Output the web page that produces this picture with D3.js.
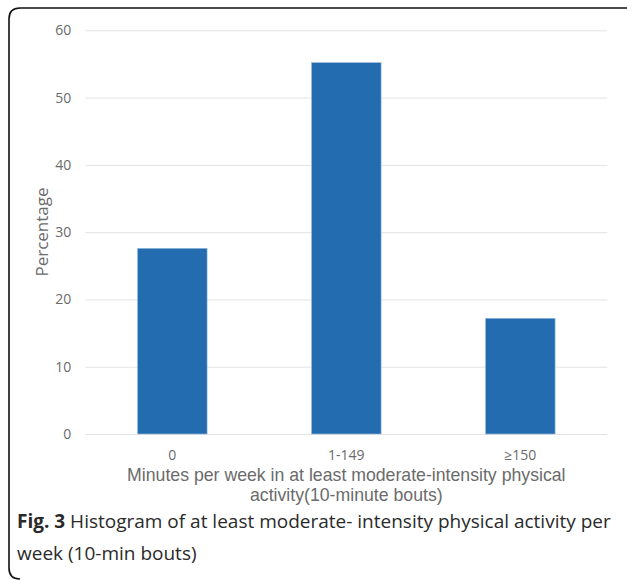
<!DOCTYPE html>
<html><head><meta charset="utf-8">
<script src="https://cdn.jsdelivr.net/npm/d3@7"></script>
<style>html,body{margin:0;padding:0;background:#fff;}svg{display:block;}</style>
</head><body>
<script>
const categories = ["0", "1-149", "\u2265150"];
const values = [27.6, 55.2, 17.2];
const yTicks = [0, 10, 20, 30, 40, 50, 60];
const yTitle = "Percentage";
const xTitleLines = ["Minutes per week in at least moderate-intensity physical", "activity(10-minute bouts)"];
const captionBold = "Fig. 3";
const captionLines = [" Histogram of at least moderate- intensity physical activity per", "week (10-min bouts)"];

(function () {
const W = 627, H = 580;
const svg = d3.select("body").append("svg").attr("width", W).attr("height", H);

// frame
svg.append("path")
  .attr("d", "M627,8 L20,8 Q9,8 9,19 L9,568 Q9,579 20,579")
  .attr("fill", "none").attr("stroke", "#111").attr("stroke-width", 1.6);

const pL = 85.3, pR = 607.3, pT = 30.3, pB = 434;
const x = d3.scaleBand().domain(categories).range([pL, pR]).paddingInner(0.6).paddingOuter(0.3);
const y = d3.scaleLinear().domain([0, 60]).range([pB, pT]);

// gridlines
const yAxis = d3.axisLeft(y).tickValues(yTicks).tickSize(-(pR - pL)).tickPadding(14);
const gy = svg.append("g").attr("transform", `translate(${pL},0)`).call(yAxis);
gy.select(".domain").remove();
gy.selectAll(".tick line").attr("stroke", "#e3e3e3").attr("stroke-width", 1);
gy.selectAll(".tick text").attr("fill", "#6b6b6b").attr("font-family", "'Open Sans', sans-serif").attr("font-size", 14);

// bars
svg.append("g").selectAll("rect").data(values).join("rect")
  .attr("x", (d, i) => x(categories[i]))
  .attr("width", x.bandwidth())
  .attr("y", d => y(d))
  .attr("height", d => y(0) - y(d))
  .attr("fill", "#236cb0")
  .attr("stroke", "#9fc0e0").attr("stroke-width", 0.6);

// x axis labels
const xAxis = d3.axisBottom(x).tickSize(0).tickPadding(16);
const gx = svg.append("g").attr("transform", `translate(0,${pB})`).call(xAxis);
gx.select(".domain").remove();
gx.selectAll(".tick text").attr("fill", "#6b6b6b").attr("font-family", "'Open Sans', sans-serif").attr("font-size", 14);

// y title
svg.append("text").attr("transform", "translate(48,232) rotate(-90)")
  .attr("text-anchor", "middle").attr("fill", "#6b6b6b")
  .attr("font-family", "'Open Sans', sans-serif").attr("font-size", 17).text(yTitle);

// x title
const xt = svg.append("text").attr("text-anchor", "middle").attr("fill", "#6b6b6b")
  .attr("font-family", "'Liberation Sans', Arial, sans-serif").attr("font-size", 17.7);
xTitleLines.forEach((t, i) => xt.append("tspan").attr("x", (pL + pR) / 2).attr("y", 481 + i * 19.5).text(t));

// caption
const cap = svg.append("text").attr("fill", "#2a2a2a")
  .attr("font-family", "'Open Sans', sans-serif").attr("font-size", 19);
const l1 = cap.append("tspan").attr("x", 17).attr("y", 528);
l1.append("tspan").attr("font-weight", "bold").text(captionBold);
l1.append("tspan").text(captionLines[0]);
cap.append("tspan").attr("x", 17).attr("y", 560).text(captionLines[1]);
})();
</script>
</body></html>
